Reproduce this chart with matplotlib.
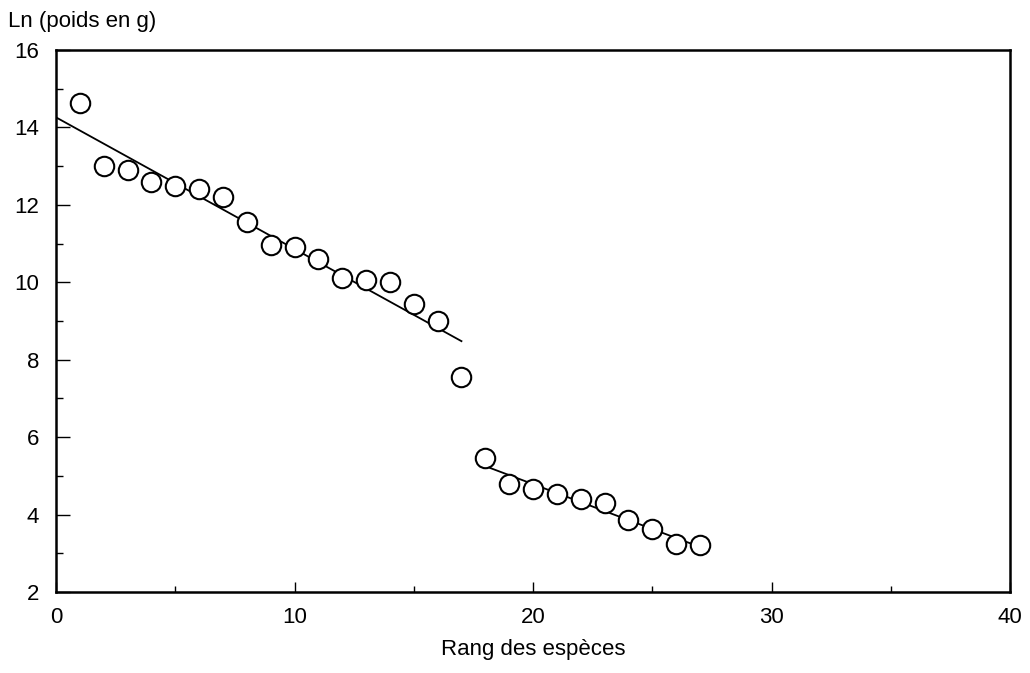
import numpy as np
import matplotlib
matplotlib.use("Agg")
import matplotlib.pyplot as plt
from matplotlib.ticker import MultipleLocator

plt.rcParams['font.family'] = ['Liberation Sans', 'DejaVu Sans']

# Data: rank of species and ln(weight in g)
rank = list(range(1, 28))
ln_weight = [14.62, 13.00, 12.90, 12.60, 12.50, 12.40, 12.20, 11.55, 10.97,
             10.90, 10.60, 10.10, 10.06, 10.00, 9.44, 9.00, 7.56,
             5.45, 4.80, 4.65, 4.52, 4.41, 4.30, 3.86, 3.63, 3.24, 3.21]
# Groups used for the two regression lines
group1_ranks = list(range(1, 18))
group2_ranks = list(range(18, 28))
line1_span = [0, 17]
line2_span = [18, 27]

x_ticks = [0, 10, 20, 30, 40]
y_ticks = [2, 4, 6, 8, 10, 12, 14, 16]

fig = plt.figure(figsize=(10.30, 6.73), dpi=100)
ax = fig.add_axes([56/1030, 1 - 592/673, (1010-56)/1030, (592-50)/673])

rank_a = np.array(rank)
lw_a = np.array(ln_weight)

for grp, span in [(group1_ranks, line1_span), (group2_ranks, line2_span)]:
    m = np.isin(rank_a, grp)
    slope, icpt = np.polyfit(rank_a[m], lw_a[m], 1)
    xs = np.array(span, dtype=float)
    ax.plot(xs, slope * xs + icpt, color='black', lw=1.3, zorder=2)

ax.plot(rank, ln_weight, linestyle='none', marker='o', markersize=14,
        markerfacecolor='white', markeredgecolor='black', markeredgewidth=1.5,
        zorder=3)

ax.set_xlim(0, 40)
ax.set_ylim(2, 16)
ax.set_xticks(x_ticks)
ax.set_yticks(y_ticks)
ax.xaxis.set_minor_locator(MultipleLocator(5))
ax.yaxis.set_minor_locator(MultipleLocator(1))
ax.tick_params(axis='both', which='both', direction='in', labelsize=16,
               width=1.0, top=False, right=False)
ax.tick_params(axis='x', which='major', length=7, pad=11)
ax.tick_params(axis='x', which='minor', length=4)
ax.tick_params(axis='y', which='major', length=10, pad=12)
ax.tick_params(axis='y', which='minor', length=5)
for s in ax.spines.values():
    s.set_linewidth(1.8)

ax.set_xlabel('Rang des espèces', fontsize=16, labelpad=8)
fig.text(8/1030, 1 - 21/673, 'Ln (poids en g)', fontsize=16,
         ha='left', va='center')

fig.savefig('out.png', dpi=100, facecolor='white')
